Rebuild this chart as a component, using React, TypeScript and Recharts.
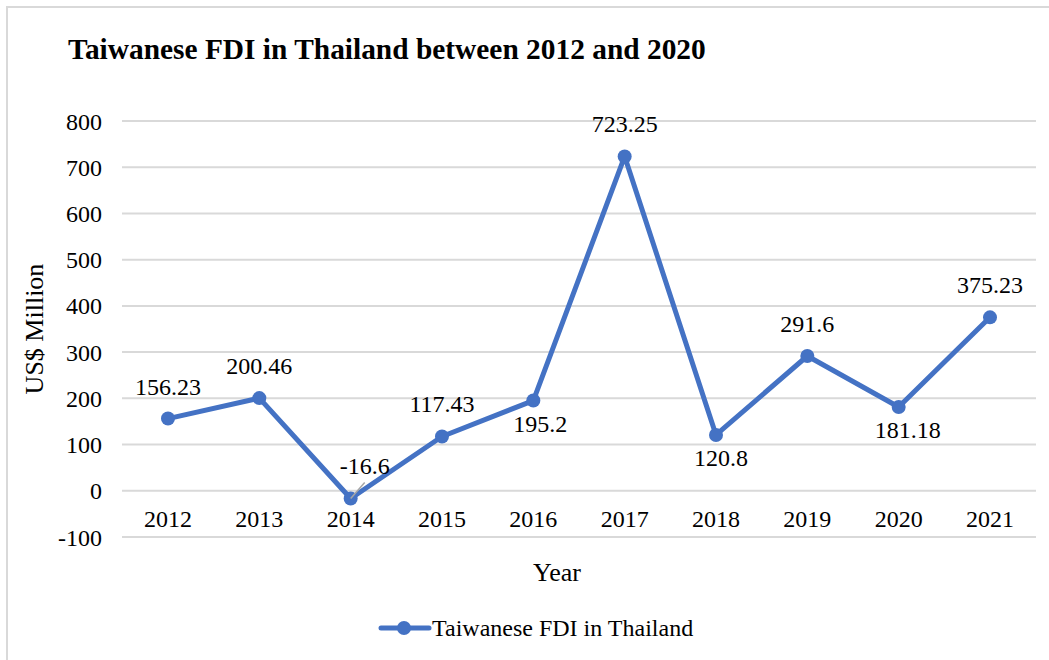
import React from 'react'
import {
  LineChart,
  Line,
  XAxis,
  YAxis,
  CartesianGrid,
  Legend,
  LabelList,
} from 'recharts'

// ---------------------------------------------------------------------------
// Data
// ---------------------------------------------------------------------------

const years = ['2012', '2013', '2014', '2015', '2016', '2017', '2018', '2019', '2020', '2021']
const fdiValues = [156.23, 200.46, -16.6, 117.43, 195.2, 723.25, 120.8, 291.6, 181.18, 375.23]
const yTicks = [-100, 0, 100, 200, 300, 400, 500, 600, 700, 800]

// label placement per point (above / below the marker)
const labelSide = ['top', 'top', 'top', 'top', 'bottom', 'top', 'bottom', 'top', 'bottom', 'top']
const labelShift = [0, 0, 14, 0, 7, 0, 5, 0, 9, 0]
const labelLeader = [false, false, true, false, false, false, false, false, false, false]

const data = years.map((year, i) => ({ year, value: fdiValues[i] }))

const SERIES = 'Taiwanese FDI in Thailand'
const BLUE = '#4472C4'
const GRID = '#d9d9d9'
const FONT = '"Liberation Serif", "Times New Roman", serif'

// ---------------------------------------------------------------------------
// Pieces
// ---------------------------------------------------------------------------

function YearTick(props: any) {
  const { x, y, payload } = props
  return (
    <text x={x} y={y - 10} textAnchor="middle" fontFamily={FONT} fontSize={24} fill="#000">
      {payload.value}
    </text>
  )
}

function PointLabel(props: any) {
  const { x, y, value, index } = props
  const above = labelSide[index] === 'top'
  const tx = x + labelShift[index]
  const ty = above ? y - 24 : y + 31
  return (
    <g>
      {labelLeader[index] && (
        <line x1={x} y1={y} x2={tx} y2={ty + 8} stroke="#a6a6a6" strokeWidth={1.5} />
      )}
      <text x={tx} y={ty} textAnchor="middle" fontFamily={FONT} fontSize={24} fill="#000">
        {value}
      </text>
    </g>
  )
}

function SeriesLegend() {
  return (
    <div style={{ display: 'flex', alignItems: 'center', fontFamily: FONT, fontSize: 24, lineHeight: '32px', color: '#000', whiteSpace: 'nowrap' }}>
      <svg width={54} height={16} style={{ display: 'block' }}>
        <line x1={3} y1={8} x2={51} y2={8} stroke={BLUE} strokeWidth={5} strokeLinecap="round" />
        <circle cx={26} cy={8} r={7} fill={BLUE} />
      </svg>
      <span>{SERIES}</span>
    </div>
  )
}

// ---------------------------------------------------------------------------
// Chart
// ---------------------------------------------------------------------------

export default function App() {
  return (
    <div style={{ position: 'absolute', left: 0, top: 0, width: 1049, height: 660, overflow: 'hidden', background: '#fff' }}>
      <div
        style={{
          position: 'absolute',
          left: 6,
          top: 6,
          width: 1200,
          height: 800,
          border: `2px solid ${GRID}`,
          boxSizing: 'border-box',
        }}
      />
      <div
        style={{
          position: 'absolute',
          left: 68,
          top: 35,
          fontFamily: FONT,
          fontWeight: 700,
          fontSize: 29.4,
          lineHeight: '29px',
          color: '#000',
          whiteSpace: 'nowrap',
        }}
      >
        Taiwanese FDI in Thailand between 2012 and 2020
      </div>
      <div style={{ position: 'absolute', left: 0, top: 0 }}>
        <LineChart
          width={1049}
          height={660}
          data={data}
          margin={{ top: 121, right: 13, left: 0, bottom: 0 }}
        >
          <CartesianGrid vertical={false} stroke={GRID} strokeWidth={2} />
          <XAxis
            dataKey="year"
            height={123}
            padding={{ left: 46, right: 46 }}
            axisLine={false}
            tickLine={false}
            tickSize={0}
            tickMargin={0}
            interval={0}
            tick={<YearTick />}
            label={{
              value: 'Year',
              position: 'insideTop',
              offset: 26,
              dx: -22,
              fontFamily: FONT,
              fontSize: 26,
              fill: '#000',
            }}
          />
          <YAxis
            width={122}
            domain={[-100, 800]}
            ticks={yTicks}
            interval={0}
            axisLine={false}
            tickLine={false}
            tickSize={0}
            tickMargin={20}
            tick={{ fontFamily: FONT, fontSize: 24, fill: '#000' }}
            label={{
              value: 'US$ Million',
              angle: -90,
              position: 'insideLeft',
              offset: 34,
              fontFamily: FONT,
              fontSize: 26,
              fill: '#000',
              style: { textAnchor: 'middle' },
            }}
          />
          <Legend
            layout="vertical"
            align="center"
            verticalAlign="middle"
            wrapperStyle={{ top: 612, left: 378, width: 'auto', height: 32 }}
            content={<SeriesLegend />}
          />
          <Line
            type="linear"
            dataKey="value"
            name={SERIES}
            stroke={BLUE}
            strokeWidth={5}
            strokeLinejoin="round"
            dot={{ r: 7, fill: BLUE, stroke: 'none' }}
            activeDot={false}
            isAnimationActive={false}
          >
            <LabelList dataKey="value" content={<PointLabel />} />
          </Line>
        </LineChart>
      </div>
    </div>
  )
}
